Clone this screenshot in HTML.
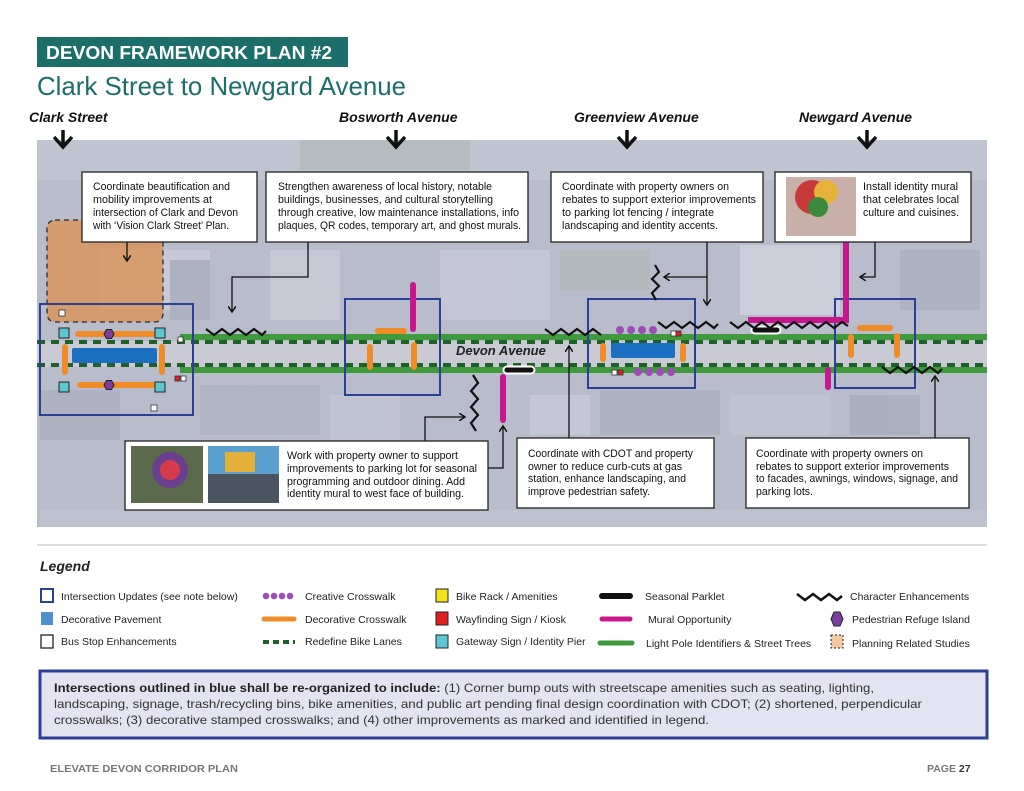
<!DOCTYPE html>
<html><head><meta charset="utf-8"><style>
html,body{margin:0;padding:0;background:#fff;}
svg{display:block;}
.t{font-family:"Liberation Sans",sans-serif;font-size:11px;fill:#111;}
.lg{font-family:"Liberation Sans",sans-serif;font-size:10.5px;fill:#222;}
.st{font-family:"Liberation Sans",sans-serif;font-size:14px;font-weight:bold;font-style:italic;fill:#111;}
</style></head><body>
<svg width="1024" height="791" viewBox="0 0 1024 791" xmlns="http://www.w3.org/2000/svg">
<defs>
<marker id="ar" markerWidth="8" markerHeight="8" refX="6" refY="4" orient="auto" markerUnits="userSpaceOnUse"><path d="M0,0 L6,4 L0,8" fill="none" stroke="#111" stroke-width="1.5"/></marker>
</defs>
<rect x="37" y="37" width="311" height="30" fill="#1b6e6a"/>
<text x="46" y="59" font-family="Liberation Sans,sans-serif" font-weight="bold" font-size="18" fill="#fff" textLength="286" lengthAdjust="spacingAndGlyphs">DEVON FRAMEWORK PLAN #2</text>
<text x="37" y="95" font-family="Liberation Sans,sans-serif" font-size="26" fill="#1b6e6a" textLength="369" lengthAdjust="spacingAndGlyphs">Clark Street to Newgard Avenue</text>
<text class="st" x="29" y="122">Clark Street</text>
<text class="st" x="339" y="122">Bosworth Avenue</text>
<text class="st" x="574" y="122">Greenview Avenue</text>
<text class="st" x="799" y="122">Newgard Avenue</text>

<rect x="37" y="140" width="950" height="387" fill="#b8bccb"/>
<g opacity="0.5">
<rect x="37" y="140" width="950" height="40" fill="#c9cbd6"/>
<rect x="100" y="250" width="110" height="60" fill="#d6d8e2"/>
<rect x="270" y="250" width="70" height="70" fill="#d3d4de"/>
<rect x="440" y="250" width="110" height="70" fill="#cfd2dc"/>
<rect x="560" y="250" width="90" height="40" fill="#b0b8b0"/>
<rect x="740" y="245" width="100" height="70" fill="#dedfe6"/>
<rect x="900" y="250" width="80" height="60" fill="#a3a7b8"/>
<rect x="40" y="390" width="80" height="50" fill="#a2a6b8"/>
<rect x="200" y="385" width="120" height="50" fill="#a9adbd"/>
<rect x="330" y="395" width="70" height="45" fill="#c9cbd6"/>
<rect x="600" y="390" width="120" height="45" fill="#a6abbb"/>
<rect x="730" y="395" width="100" height="40" fill="#c7c9d4"/>
<rect x="40" y="510" width="947" height="17" fill="#c3c5d1"/>
<rect x="300" y="140" width="170" height="30" fill="#b4bcb4"/>
<rect x="170" y="260" width="40" height="60" fill="#a4a8ba"/>
<rect x="530" y="395" width="60" height="40" fill="#d2d4de"/>
<rect x="850" y="395" width="70" height="40" fill="#a0a5b6"/>
</g>
<rect x="37" y="341" width="950" height="26" fill="#c9cad3"/>
<rect x="47" y="220" width="116" height="102" rx="8" fill="#d9975e" opacity="0.85" stroke="#111" stroke-width="1.3" stroke-dasharray="5,4"/>
<line x1="180" y1="337" x2="987" y2="337" stroke="#3e9a3c" stroke-width="6"/>
<line x1="180" y1="370" x2="987" y2="370" stroke="#3e9a3c" stroke-width="6"/>
<line x1="37" y1="342" x2="987" y2="342" stroke="#1f5f2a" stroke-width="4" stroke-dasharray="8,6"/>
<line x1="37" y1="365" x2="987" y2="365" stroke="#1f5f2a" stroke-width="4" stroke-dasharray="8,6"/>
<text x="456" y="355" font-family="Liberation Sans,sans-serif" font-size="13" font-weight="bold" font-style="italic" fill="#222">Devon Avenue</text>

<rect x="40" y="304" width="153" height="111" fill="none" stroke="#2b3f95" stroke-width="2"/>
<rect x="72" y="348" width="85" height="15" rx="2" fill="#1b6fc0"/>
<g stroke="#f08c28" stroke-width="6" stroke-linecap="round">
<line x1="78" y1="334" x2="153" y2="334"/><line x1="80" y1="385" x2="153" y2="385"/>
<line x1="65" y1="347" x2="65" y2="372"/><line x1="162" y1="347" x2="162" y2="372"/>
<line x1="378" y1="331" x2="404" y2="331"/><line x1="370" y1="347" x2="370" y2="367"/><line x1="414" y1="345" x2="414" y2="367"/>
<line x1="603" y1="346" x2="603" y2="359"/><line x1="683" y1="346" x2="683" y2="359"/>
<line x1="860" y1="328" x2="890" y2="328"/><line x1="851" y1="337" x2="851" y2="355"/><line x1="897" y1="336" x2="897" y2="355"/>
</g>
<g fill="#7b3fa0" stroke="#222" stroke-width="1">
<polygon points="104,334 106.5,329.5 111.5,329.5 114,334 111.5,338.5 106.5,338.5"/>
<polygon points="104,385 106.5,380.5 111.5,380.5 114,385 111.5,389.5 106.5,389.5"/>
</g>
<g fill="#5ec6d2" stroke="#222" stroke-width="1">
<rect x="59" y="328" width="10" height="10"/><rect x="155" y="328" width="10" height="10"/>
<rect x="59" y="382" width="10" height="10"/><rect x="155" y="382" width="10" height="10"/>
</g>
<g fill="#fff" stroke="#333" stroke-width="0.8">
<rect x="59" y="310" width="6" height="6"/><rect x="178" y="337" width="5" height="5"/><rect x="181" y="376" width="5" height="5"/><rect x="151" y="405" width="6" height="6"/>
<rect x="671" y="331" width="5" height="5"/><rect x="612" y="370" width="5" height="5"/>
</g>
<g fill="#e02020" stroke="#333" stroke-width="0.8">
<rect x="175" y="376" width="5" height="5"/><rect x="676" y="331" width="5" height="5"/><rect x="618" y="370" width="5" height="5"/>
</g>
<rect x="345" y="299" width="95" height="96" fill="none" stroke="#2b3f95" stroke-width="2"/>
<rect x="588" y="299" width="107" height="89" fill="none" stroke="#2b3f95" stroke-width="2"/>
<rect x="835" y="299" width="80" height="89" fill="none" stroke="#2b3f95" stroke-width="2"/>
<rect x="611" y="343" width="64" height="15" rx="2" fill="#1b6fc0"/>
<g fill="#9b4fb5">
<circle cx="620" cy="330" r="4"/><circle cx="631" cy="330" r="4"/><circle cx="642" cy="330" r="4"/><circle cx="653" cy="330" r="4"/>
<circle cx="638" cy="372" r="4"/><circle cx="649" cy="372" r="4"/><circle cx="660" cy="372" r="4"/><circle cx="671" cy="372" r="4"/>
</g>
<g stroke="#c6178d" stroke-width="6" stroke-linecap="round" fill="none">
<line x1="413" y1="285" x2="413" y2="329"/>
<line x1="503" y1="377" x2="503" y2="420"/>
<polyline points="846,242 846,320 748,320" stroke-linecap="butt"/>
<line x1="828" y1="370" x2="828" y2="387"/>
</g>
<g stroke="#fff" stroke-width="9" stroke-linecap="round"><line x1="507" y1="370" x2="531" y2="370"/><line x1="755" y1="330" x2="777" y2="330"/></g>
<g stroke="#111" stroke-width="5" stroke-linecap="round"><line x1="507" y1="370" x2="531" y2="370"/><line x1="755" y1="330" x2="777" y2="330"/></g>
<g fill="none" stroke="#111" stroke-width="2.2">
<polyline points="206,329 214,335 222,329 230,335 238,329 246,335 254,329 262,335 266,331"/>
<polyline points="545,329 553,335 561,329 569,335 577,329 585,335 593,329 601,335"/>
<polyline points="658,322 666,328 674,322 682,328 690,322 698,328 706,322 714,328 718,324"/>
<polyline points="730,322 738,328 746,322 754,328 762,322 770,328 778,322 786,328 794,322 802,328 810,322 818,328 826,322 834,328 842,322 848,326"/>
<polyline points="882,367 890,373 898,367 906,373 914,367 922,373 930,367 938,373 942,369"/>
<polyline points="473,375 478,383 471,391 478,399 471,407 478,415 471,423 476,431"/>
<polyline points="655,265 659,272 652,279 659,286 652,293 656,300"/>
</g>
<g fill="none" stroke="#111" stroke-width="1.3" marker-end="url(#ar)">
<polyline points="127,242 127,261"/>
<polyline points="308,242 308,277 232,277 232,312"/>
<polyline points="707,242 707,305"/>
<polyline points="707,277 664,277"/>
<polyline points="875,242 875,277 860,277"/>
<polyline points="425,441 425,417 465,417"/>
<polyline points="488,468 503,468 503,426"/>
<polyline points="569,438 569,346"/>
<polyline points="935,438 935,376"/>
</g>
<g fill="#fff" stroke="#222" stroke-width="1.3">
<rect x="82" y="172" width="175" height="70"/>
<rect x="266" y="172" width="262" height="70"/>
<rect x="551" y="172" width="212" height="70"/>
<rect x="775" y="172" width="196" height="70"/>
<rect x="125" y="441" width="363" height="69"/>
<rect x="517" y="438" width="197" height="70"/>
<rect x="746" y="438" width="223" height="70"/>
</g>
<rect x="786" y="177" width="70" height="59" fill="#c9b0a8"/>
<circle cx="812" cy="197" r="17" fill="#c83a3a"/><circle cx="826" cy="192" r="12" fill="#e7b23a"/><circle cx="818" cy="207" r="10" fill="#3d8a3f"/>
<rect x="131" y="446" width="72" height="57" fill="#5a6a4a"/>
<circle cx="170" cy="470" r="18" fill="#6b3f8f"/><circle cx="170" cy="470" r="10" fill="#d43c4a"/>
<rect x="208" y="446" width="71" height="57" fill="#4a5460"/>
<rect x="208" y="446" width="71" height="28" fill="#5b9fcf"/><rect x="225" y="452" width="30" height="20" fill="#e3b13a"/>

<text class="t" x="93" y="190" textLength="137" lengthAdjust="spacingAndGlyphs">Coordinate beautification and</text>
<text class="t" x="93" y="203" textLength="119" lengthAdjust="spacingAndGlyphs">mobility improvements at</text>
<text class="t" x="93" y="216" textLength="145" lengthAdjust="spacingAndGlyphs">intersection of Clark and Devon</text>
<text class="t" x="93" y="229" textLength="136" lengthAdjust="spacingAndGlyphs">with ‘Vision Clark Street’ Plan.</text>
<text class="t" x="278" y="190" textLength="214" lengthAdjust="spacingAndGlyphs">Strengthen awareness of local history, notable</text>
<text class="t" x="278" y="203" textLength="215" lengthAdjust="spacingAndGlyphs">buildings, businesses, and cultural storytelling</text>
<text class="t" x="278" y="216" textLength="241" lengthAdjust="spacingAndGlyphs">through creative, low maintenance installations, info</text>
<text class="t" x="278" y="229" textLength="243" lengthAdjust="spacingAndGlyphs">plaques, QR codes, temporary art, and ghost murals.</text>
<text class="t" x="562" y="190" textLength="167" lengthAdjust="spacingAndGlyphs">Coordinate with property owners on</text>
<text class="t" x="562" y="203" textLength="194" lengthAdjust="spacingAndGlyphs">rebates to support exterior improvements</text>
<text class="t" x="562" y="216" textLength="152" lengthAdjust="spacingAndGlyphs">to parking lot fencing / integrate</text>
<text class="t" x="562" y="229" textLength="156" lengthAdjust="spacingAndGlyphs">landscaping and identity accents.</text>
<text class="t" x="863" y="190" textLength="95" lengthAdjust="spacingAndGlyphs">Install identity mural</text>
<text class="t" x="863" y="203" textLength="96" lengthAdjust="spacingAndGlyphs">that celebrates local</text>
<text class="t" x="863" y="216" textLength="96" lengthAdjust="spacingAndGlyphs">culture and cuisines.</text>
<text class="t" x="287" y="459" textLength="171" lengthAdjust="spacingAndGlyphs">Work with property owner to support</text>
<text class="t" x="287" y="472" textLength="190" lengthAdjust="spacingAndGlyphs">improvements to parking lot for seasonal</text>
<text class="t" x="287" y="485" textLength="178" lengthAdjust="spacingAndGlyphs">programming and outdoor dining. Add</text>
<text class="t" x="287" y="497" textLength="177" lengthAdjust="spacingAndGlyphs">identity mural to west face of building.</text>
<text class="t" x="528" y="457" textLength="165" lengthAdjust="spacingAndGlyphs">Coordinate with CDOT and property</text>
<text class="t" x="528" y="470" textLength="154" lengthAdjust="spacingAndGlyphs">owner to reduce curb-cuts at gas</text>
<text class="t" x="528" y="482" textLength="158" lengthAdjust="spacingAndGlyphs">station, enhance landscaping, and</text>
<text class="t" x="528" y="495" textLength="122" lengthAdjust="spacingAndGlyphs">improve pedestrian safety.</text>
<text class="t" x="756" y="457" textLength="167" lengthAdjust="spacingAndGlyphs">Coordinate with property owners on</text>
<text class="t" x="756" y="470" textLength="193" lengthAdjust="spacingAndGlyphs">rebates to support exterior improvements</text>
<text class="t" x="756" y="482" textLength="202" lengthAdjust="spacingAndGlyphs">to facades, awnings, windows, signage, and</text>
<text class="t" x="756" y="495" textLength="57" lengthAdjust="spacingAndGlyphs">parking lots.</text>

<g fill="none" stroke="#111" stroke-width="3.5">
<path d="M63,130 V148 M54,137 L63,147 L72,137"/>
<path d="M396,130 V148 M387,137 L396,147 L405,137"/>
<path d="M627,130 V148 M618,137 L627,147 L636,137"/>
<path d="M867,130 V148 M858,137 L867,147 L876,137"/>
</g>

<line x1="37" y1="545" x2="987" y2="545" stroke="#bbb" stroke-width="1"/>
<text x="40" y="571" font-family="Liberation Sans,sans-serif" font-size="14" font-weight="bold" font-style="italic" fill="#222">Legend</text>
<rect x="41" y="589" width="12" height="13" fill="#fff" stroke="#2b3f95" stroke-width="2"/>
<text class="lg" x="61" y="600">Intersection Updates (see note below)</text>
<rect x="41" y="612" width="12" height="13" fill="#4f8fd0"/>
<text class="lg" x="61" y="623">Decorative Pavement</text>
<rect x="41" y="635" width="12" height="13" fill="#fff" stroke="#222" stroke-width="1.3"/>
<text class="lg" x="61" y="645">Bus Stop Enhancements</text>
<g fill="#9b4fb5"><circle cx="266" cy="596" r="3.3"/><circle cx="274" cy="596" r="3.3"/><circle cx="282" cy="596" r="3.3"/><circle cx="290" cy="596" r="3.3"/></g>
<text class="lg" x="305" y="600">Creative Crosswalk</text>
<line x1="264" y1="619" x2="294" y2="619" stroke="#f08c28" stroke-width="5" stroke-linecap="round"/>
<text class="lg" x="305" y="623">Decorative Crosswalk</text>
<line x1="263" y1="642" x2="295" y2="642" stroke="#1f5f2a" stroke-width="4" stroke-dasharray="6,4"/>
<text class="lg" x="305" y="645">Redefine Bike Lanes</text>
<rect x="436" y="589" width="12" height="13" fill="#f2e21a" stroke="#222"/>
<text class="lg" x="456" y="600">Bike Rack / Amenities</text>
<rect x="436" y="612" width="12" height="13" fill="#e02020" stroke="#222"/>
<text class="lg" x="456" y="623">Wayfinding Sign / Kiosk</text>
<rect x="436" y="635" width="12" height="13" fill="#5ec6d2" stroke="#222"/>
<text class="lg" x="456" y="645">Gateway Sign / Identity Pier</text>
<line x1="602" y1="596" x2="630" y2="596" stroke="#111" stroke-width="6" stroke-linecap="round"/>
<text class="lg" x="645" y="600">Seasonal Parklet</text>
<line x1="602" y1="619" x2="630" y2="619" stroke="#c6178d" stroke-width="5" stroke-linecap="round"/>
<text class="lg" x="648" y="623">Mural Opportunity</text>
<line x1="600" y1="643" x2="632" y2="643" stroke="#3e9a3c" stroke-width="5" stroke-linecap="round"/>
<text class="lg" x="646" y="647">Light Pole Identifiers &amp; Street Trees</text>
<polyline points="797,594 805,600 813,594 821,600 829,594 837,600 842,596" fill="none" stroke="#111" stroke-width="2.5"/>
<text class="lg" x="850" y="600">Character Enhancements</text>
<polygon points="831,619 834,612 840,612 843,619 840,626 834,626" fill="#7b3fa0" stroke="#222"/>
<text class="lg" x="852" y="623">Pedestrian Refuge Island</text>
<rect x="831" y="635" width="12" height="13" fill="#f5c9a0" stroke="#222" stroke-dasharray="2,2"/>
<text class="lg" x="852" y="647">Planning Related Studies</text>

<rect x="40" y="671" width="947" height="67" fill="#e3e3f1" stroke="#2b3f95" stroke-width="3"/>
<text x="54" y="692" font-family="Liberation Sans,sans-serif" font-size="12" fill="#333" textLength="820" lengthAdjust="spacingAndGlyphs"><tspan font-weight="bold" fill="#222">Intersections outlined in blue shall be re-organized to include:</tspan>  (1) Corner bump outs with streetscape amenities such as seating, lighting,</text>
<text x="54" y="708" font-family="Liberation Sans,sans-serif" font-size="12" fill="#333" textLength="868" lengthAdjust="spacingAndGlyphs">landscaping, signage, trash/recycling bins, bike amenities, and public art pending final design coordination with CDOT; (2) shortened, perpendicular</text>
<text x="54" y="724" font-family="Liberation Sans,sans-serif" font-size="12" fill="#333" textLength="655" lengthAdjust="spacingAndGlyphs">crosswalks; (3) decorative stamped crosswalks; and (4) other improvements as marked and identified in legend.</text>

<text x="50" y="772" font-family="Liberation Sans,sans-serif" font-size="10.5" font-weight="bold" fill="#777" textLength="188" lengthAdjust="spacingAndGlyphs">ELEVATE DEVON CORRIDOR PLAN</text>
<text x="927" y="772" font-family="Liberation Sans,sans-serif" font-size="10.5" font-weight="bold" fill="#777">PAGE <tspan fill="#333">27</tspan></text>
</svg>
</body></html>
